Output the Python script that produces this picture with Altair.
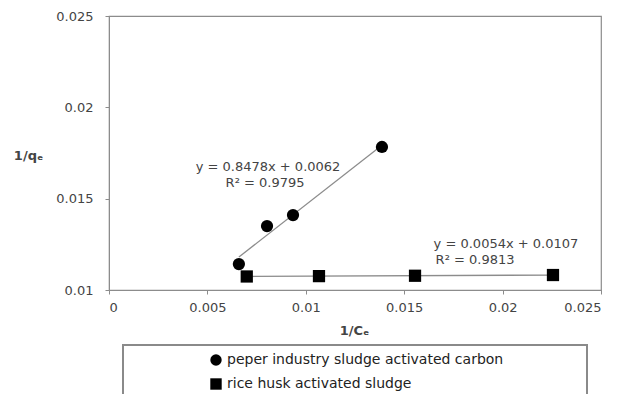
import altair as alt
import pandas as pd

S1 = "peper industry sludge activated carbon"
S2 = "rice husk activated sludge"

x1 = [0.0066, 0.00803, 0.00935, 0.01387]
y1 = [0.01142, 0.0135, 0.0141, 0.01783]
x2 = [0.0070, 0.01067, 0.01555, 0.02256]
y2 = [0.01074, 0.01076, 0.01078, 0.01082]

lab_text = ["y = 0.8478x + 0.0062", "R² = 0.9795", "y = 0.0054x + 0.0107", "R² = 0.9813"]
lab_x = [0.00808, 0.00793, 0.02017, 0.0186]
lab_y = [0.01674, 0.01586, 0.01252, 0.01164]

x_ticks = [0, 0.005, 0.01, 0.015, 0.02, 0.025]
y_ticks = [0.01, 0.015, 0.02, 0.025]

df = pd.DataFrame({
    "x": x1 + x2,
    "y": y1 + y2,
    "series": [S1] * len(x1) + [S2] * len(x2),
})
labels = pd.DataFrame({"t": lab_text, "x": lab_x, "y": lab_y})

FONT = "DejaVu Sans"
TXT = "#444444"
AX = "#8c8c8c"
FS = 13

xs = alt.Scale(domain=[0, 0.025], nice=False, zero=False)
ys = alt.Scale(domain=[0.01, 0.025], nice=False, zero=False)

xenc = alt.X("x:Q", scale=xs, axis=alt.Axis(
    values=x_ticks, format="~g", title="1/Cₑ", grid=False,
    domainColor=AX, tickColor=AX, tickSize=4, labelFont=FONT, labelFontSize=FS,
    labelColor=TXT, labelPadding=7, titleFont=FONT, titleFontSize=FS, titleFontWeight="bold",
    titleColor=TXT, titleX=245, titleY=40, titleAlign="center", titleBaseline="middle"))
yenc = alt.Y("y:Q", scale=ys, axis=alt.Axis(
    values=y_ticks, format="~g", title="1/qₑ", grid=False,
    domainColor=AX, tickColor=AX, tickSize=4, labelFont=FONT, labelFontSize=FS,
    labelColor=TXT, labelPadding=12, titleFont=FONT, titleFontSize=FS, titleFontWeight="bold",
    titleColor=TXT, titleAngle=0, titleX=-81, titleY=139, titleAlign="center",
    titleBaseline="middle"))

base = alt.Chart(df)

trend = base.transform_regression("x", "y", groupby=["series"], method="linear").mark_line(
    color="#8c8c8c", strokeWidth=1.3
).encode(x=alt.X("x:Q", scale=xs), y=alt.Y("y:Q", scale=ys), detail="series:N")

pts = base.mark_point(filled=True, opacity=1, color="black", size=150).encode(
    x=xenc, y=yenc,
    shape=alt.Shape("series:N", scale=alt.Scale(domain=[S1, S2], range=["circle", "square"]),
                    legend=alt.Legend(title=None, orient="none", legendX=100, legendY=337,
                                      labelFont=FONT, labelFontSize=14, labelColor="#222222",
                                      labelLimit=500,
                                      symbolSize=130, symbolFillColor="black", symbolStrokeColor="black",
                                      symbolOpacity=1,
                                      rowPadding=6, labelOffset=4, padding=0, zindex=2)),
)

txt = alt.Chart(labels).mark_text(font=FONT, fontSize=FS, color=TXT, align="center", baseline="middle").encode(
    x=alt.X("x:Q", scale=xs), y=alt.Y("y:Q", scale=ys), text="t:N")

box = alt.Chart(pd.DataFrame({"a": [0]})).mark_rect(
    fillOpacity=0, stroke="#8a8a8a", strokeWidth=2
).encode(x=alt.value(14), x2=alt.value(478), y=alt.value(329), y2=alt.value(420))

chart = alt.layer(box, trend, pts, txt).properties(
    width=492, height=274,
    autosize=alt.AutoSizeParams(type="none"),
    padding={"left": 109, "top": 16, "right": 32, "bottom": 104},
    background="white",
).configure_view(stroke=AX, strokeWidth=1.2)

chart.save("out.html", embed_options={"renderer": "svg", "actions": False})
